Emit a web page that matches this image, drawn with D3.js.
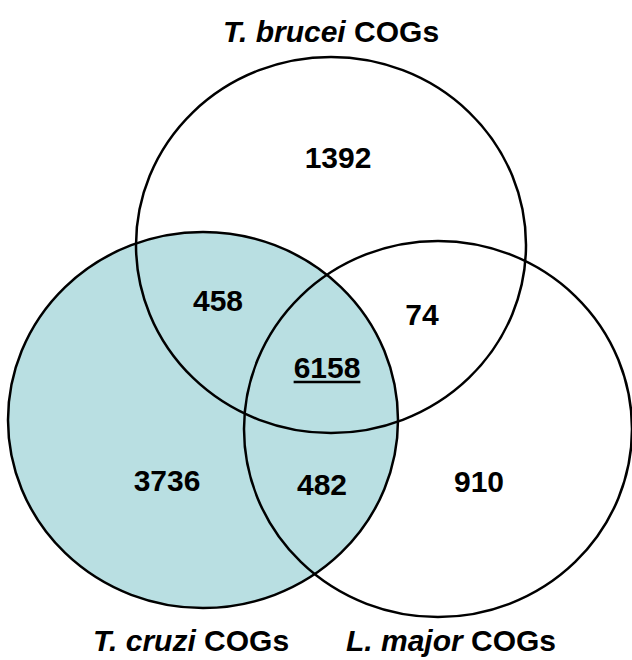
<!DOCTYPE html>
<html>
<head>
<meta charset="utf-8">
<script src="https://cdn.jsdelivr.net/npm/d3@7"></script>
<style>
  body { margin: 0; background: #fff; }
  text { font-family: "Liberation Sans", Arial, sans-serif; font-weight: bold; fill: #000; }
</style>
</head>
<body>
<svg id="chart"></svg>
<script>
// sets and region counts
const setNames = ["T. brucei", "T. cruzi", "L. major"];
const setSuffix = " COGs";
const regionKeys = ["brucei", "cruzi", "major", "brucei+cruzi", "brucei+major", "cruzi+major", "all"];
const regionCounts = [1392, 3736, 910, 458, 74, 482, 6158];

// layout (pixels)
const width = 632, height = 660;
const circles = [
    { cx: 331, cy: 245, rx: 195, ry: 188, fill: "none" },
    { cx: 203, cy: 420, rx: 195, ry: 188, fill: "#b9dfe2" },
    { cx: 438, cy: 429, rx: 194, ry: 188, fill: "none" }
];
const regionPos = {
    "brucei": [338, 168],
    "cruzi": [167, 491],
    "major": [479, 492],
    "brucei+cruzi": [218, 311],
    "brucei+major": [422, 325],
    "cruzi+major": [322, 495],
    "all": [327, 378]
};
const labelPos = [[331, 42], [191, 651], [451, 651]];

const svg = d3.select("#chart")
    .attr("width", width)
    .attr("height", height);

// fills first, outlines on top
svg.append("g").selectAll("ellipse")
    .data(circles)
    .join("ellipse")
    .attr("cx", d => d.cx)
    .attr("cy", d => d.cy)
    .attr("rx", d => d.rx)
    .attr("ry", d => d.ry)
    .attr("fill", d => d.fill)
    .attr("stroke", "none");

svg.append("g").selectAll("ellipse")
    .data(circles)
    .join("ellipse")
    .attr("cx", d => d.cx)
    .attr("cy", d => d.cy)
    .attr("rx", d => d.rx)
    .attr("ry", d => d.ry)
    .attr("fill", "none")
    .attr("stroke", "#000")
    .attr("stroke-width", 2.5);

// region counts
const regions = regionKeys.map((k, i) => ({ key: k, n: regionCounts[i] }));
const nums = svg.append("g").selectAll("text")
    .data(regions)
    .join("text")
    .attr("x", d => regionPos[d.key][0])
    .attr("y", d => regionPos[d.key][1])
    .attr("text-anchor", "middle")
    .style("font-size", "30px")
    .text(d => d.n);

// underline for the core region
nums.filter(d => d.key === "all").each(function(d) {
    const b = this.getBBox();
    svg.append("line")
        .attr("x1", b.x).attr("x2", b.x + b.width)
        .attr("y1", regionPos[d.key][1] + 4).attr("y2", regionPos[d.key][1] + 4)
        .attr("stroke", "#000")
        .attr("stroke-width", 2.5);
});

// set labels
const labels = svg.append("g").selectAll("text")
    .data(setNames)
    .join("text")
    .attr("x", (d, i) => labelPos[i][0])
    .attr("y", (d, i) => labelPos[i][1])
    .attr("text-anchor", "middle")
    .style("font-size", "30px");

labels.append("tspan").style("font-style", "italic").text(d => d);
labels.append("tspan").text(setSuffix);
</script>
</body>
</html>
